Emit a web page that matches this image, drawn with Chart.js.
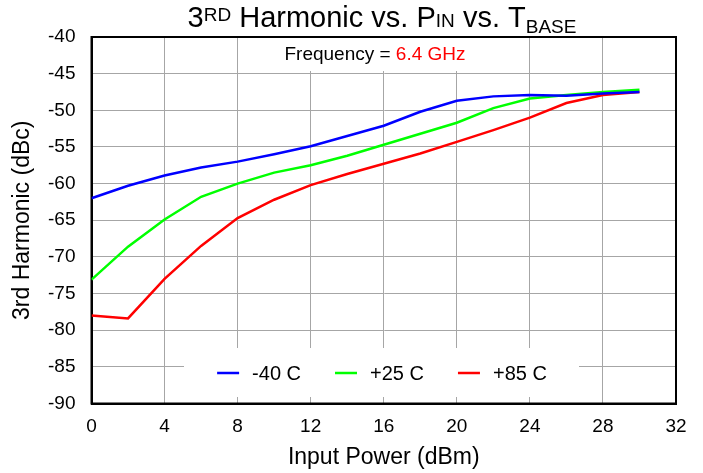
<!DOCTYPE html>
<html>
<head>
<meta charset="utf-8">
<script src="https://cdn.jsdelivr.net/npm/chart.js@4/dist/chart.umd.min.js"></script>
<style>
  html, body { margin: 0; padding: 0; background: #fff; }
  #wrap { width: 703px; height: 473px; position: relative; }
</style>
</head>
<body>
<div id="wrap"><canvas id="harmonicChart"></canvas></div>
<script>
// Input power points (dBm)
const inputPower = [0, 2, 4, 6, 8, 10, 12, 14, 16, 18, 20, 22, 24, 26, 28, 30];

// 3rd harmonic (dBc) per base temperature
const minus40C = [-62.0, -60.3, -58.9, -57.8, -57.0, -56.0, -54.9, -53.5, -52.1, -50.2, -48.7, -48.1, -47.9, -48.0, -47.7, -47.5];
const plus25C  = [-73.1, -68.6, -64.9, -61.8, -60.0, -58.5, -57.5, -56.2, -54.7, -53.2, -51.7, -49.7, -48.4, -47.9, -47.5, -47.2];
const plus85C  = [-78.0, -78.4, -73.0, -68.5, -64.7, -62.2, -60.2, -58.7, -57.3, -55.9, -54.3, -52.7, -51.0, -49.0, -47.9, -47.5];

const seriesLabels = ['-40 C', '+25 C', '+85 C'];
const seriesColors = ['#0000ff', '#00ff00', '#ff0000'];

const FONT = '"Liberation Sans", Arial, sans-serif';

function toPoints(values) {
    return inputPower.map((x, i) => ({ x: x, y: values[i] }));
}

// white boxes behind the annotation + legend, and the black frame
const boxesPlugin = {
    id: 'boxes',
    beforeDatasetsDraw(chart) {
        const ctx = chart.ctx;
        const a = chart.chartArea;
        ctx.save();
        ctx.fillStyle = '#fff';
        ctx.fillRect(250, a.top + 1, 270, 33);   // behind "Frequency"
        ctx.fillRect(184, 348, 395, 49);        // behind legend
        ctx.strokeStyle = '#000';
        ctx.lineWidth = 2;
        ctx.strokeRect(a.left, a.top, a.right - a.left, a.bottom - a.top);
        ctx.restore();
    },
    afterDatasetsDraw(chart) {
        const ctx = chart.ctx;
        ctx.save();
        // Frequency note
        ctx.font = '19px ' + FONT;
        ctx.textBaseline = 'middle';
        const t1 = 'Frequency = ', t2 = '6.4 GHz';
        const w1 = ctx.measureText(t1).width, w2 = ctx.measureText(t2).width;
        let x = 375 - (w1 + w2) / 2;
        ctx.fillStyle = '#000';
        ctx.fillText(t1, x, 55);
        ctx.fillStyle = '#ff0000';
        ctx.fillText(t2, x + w1, 55);

        // Legend
        ctx.font = '20px ' + FONT;
        const sample = 22, gap = 13, itemGap = 34;
        const widths = seriesLabels.map(l => ctx.measureText(l).width);
        const total = widths.reduce((s, w) => s + w + sample + gap, 0) + itemGap * 2;
        x = 382 - total / 2;
        const ly = 373;
        chart.data.datasets.forEach((ds, i) => {
            ctx.strokeStyle = ds.borderColor;
            ctx.lineWidth = 2.5;
            ctx.beginPath();
            ctx.moveTo(x, ly);
            ctx.lineTo(x + sample, ly);
            ctx.stroke();
            ctx.fillStyle = '#000';
            ctx.fillText(ds.label, x + sample + gap, ly + 1);
            x += sample + gap + widths[i] + itemGap;
        });
        ctx.restore();
    },
    afterDraw(chart) {
        // Title with super/subscripts
        const ctx = chart.ctx;
        const parts = [
            { t: '3', big: true, dy: 0 },
            { t: 'RD', big: false, dy: -6 },
            { t: ' Harmonic vs. P', big: true, dy: 0 },
            { t: 'IN', big: false, dy: 0 },
            { t: ' vs. T', big: true, dy: 0 },
            { t: 'BASE', big: false, dy: 6 }
        ];
        ctx.save();
        ctx.textBaseline = 'alphabetic';
        ctx.fillStyle = '#000';
        let total = 0;
        parts.forEach(p => {
            ctx.font = (p.big ? '29px ' : '19px ') + FONT;
            p.w = ctx.measureText(p.t).width;
            total += p.w;
        });
        let x = 382 - total / 2;
        const base = 27;
        parts.forEach(p => {
            ctx.font = (p.big ? '29px ' : '19px ') + FONT;
            ctx.fillText(p.t, x, base + p.dy);
            x += p.w;
        });
        ctx.restore();
    }
};

new Chart(document.getElementById('harmonicChart').getContext('2d'), {
    type: 'line',
    data: {
        datasets: [minus40C, plus25C, plus85C].map((vals, i) => ({
            label: seriesLabels[i],
            data: toPoints(vals),
            borderColor: seriesColors[i],
            backgroundColor: seriesColors[i],
            borderWidth: 2.5,
            pointRadius: 0,
            tension: 0,
            fill: false
        }))
    },
    options: {
        responsive: true,
        maintainAspectRatio: false,
        animation: false,
        layout: { padding: { top: 37, right: 27, left: 0, bottom: 0 } },
        plugins: {
            legend: { display: false },
            title: { display: false },
            tooltip: { enabled: false }
        },
        scales: {
            x: {
                type: 'linear',
                min: 0,
                max: 32,
                afterFit: s => { s.height = 69.5; },
                ticks: { stepSize: 4, color: '#000', font: { family: FONT, size: 19 }, padding: 12 },
                grid: { color: '#a6a6a6', lineWidth: 1, drawTicks: false },
                border: { color: '#000', width: 2 },
                title: { display: true, text: 'Input Power (dBm)', color: '#000', font: { family: FONT, size: 23 }, padding: { top: 0, bottom: 2 } }
            },
            y: {
                min: -90,
                max: -40,
                afterFit: s => { s.width = 91.5; },
                ticks: { stepSize: 5, color: '#000', font: { family: FONT, size: 19 }, padding: 16 },
                grid: { color: '#a6a6a6', lineWidth: 1, drawTicks: false },
                border: { color: '#000', width: 2 },
                title: { display: true, text: '3rd Harmonic (dBc)', color: '#000', font: { family: FONT, size: 23 }, padding: { top: 9, bottom: 0 } }
            }
        }
    },
    plugins: [boxesPlugin]
});
</script>
</body>
</html>
